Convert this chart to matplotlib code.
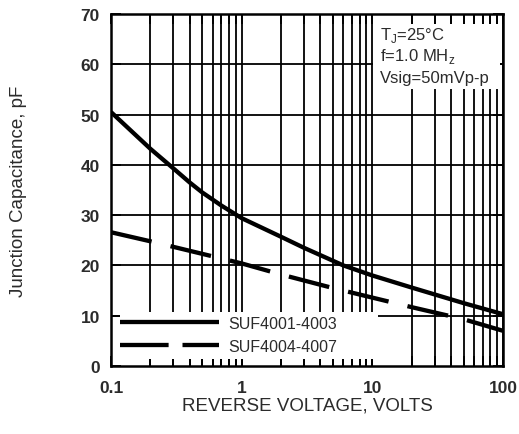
import numpy as np
import matplotlib
matplotlib.use("Agg")
import matplotlib.pyplot as plt
from matplotlib.patches import Rectangle
from matplotlib.lines import Line2D

plt.rcParams['font.family'] = ['Liberation Sans', 'DejaVu Sans']
plt.rcParams['lines.scale_dashes'] = False

# 数据
v_solid = [0.1, 0.2, 0.3, 0.4, 0.5, 0.7, 1, 2, 3, 6, 10, 20, 50, 100]
c_solid = [50.5, 43.2, 39.3, 36.5, 34.5, 31.9, 29.4, 25.7, 23.5, 20.0, 18.0, 15.6, 12.5, 10.3]
v_dash = [0.1, 0.2, 0.5, 1, 2, 5, 10, 20, 50, 100]
c_dash = [26.6, 24.8, 22.3, 20.4, 18.2, 15.5, 13.6, 11.7, 9.3, 7.0]
labels = ["SUF4001-4003", "SUF4004-4007"]
x_ticks = [0.1, 1, 10, 100]
x_ticklabels = ["0.1", "1", "10", "100"]
y_ticks = [0, 10, 20, 30, 40, 50, 60, 70]
cond_lines = [r"T$_\mathregular{J}$=25°C", r"f=1.0 MH$_\mathregular{z}$", "Vsig=50mVp-p"]

txt = '#2b2b2b'
lw = 3.1

fig = plt.figure(figsize=(5.19, 4.35), dpi=100)
ax = fig.add_axes([111 / 519, 68 / 435, 392 / 519, 352 / 435])
ax.set_xscale('log')
ax.set_xlim(0.1, 100)
ax.set_ylim(0, 70)

ax.plot(v_solid, c_solid, color='black', lw=lw, solid_capstyle='butt', zorder=3)
ax.plot(v_dash, c_dash, color='black', lw=lw, dashes=(30, 14), dash_capstyle='butt', zorder=3)

# 网格
ax.set_axisbelow(True)
ax.grid(True, which='both', color='black', lw=1.3)
ax.set_xticks(x_ticks)
ax.set_xticklabels(x_ticklabels)
ax.set_yticks(y_ticks)
ax.tick_params(which='both', direction='in', top=True, right=True, length=7, width=1.3,
               labelsize=12.5, labelcolor=txt)
ax.tick_params(axis='x', which='both', pad=10)
ax.tick_params(axis='y', pad=8)
ax.yaxis.get_gridlines()[0].set_visible(False)
for lab in ax.get_xticklabels() + ax.get_yticklabels():
    lab.set_fontweight('bold')
for sp in ax.spines.values():
    sp.set_linewidth(1.8)
    sp.set_zorder(5)

# 白色遮挡区 (图例和条件说明)
ax.add_patch(Rectangle((0.022, 0.02), 0.66, 0.133, transform=ax.transAxes,
                       facecolor='white', edgecolor='none', zorder=1))
ax.add_patch(Rectangle((0.668, 0.787), 0.324, 0.185, transform=ax.transAxes,
                       facecolor='white', edgecolor='none', zorder=1))

for i, s in enumerate(cond_lines):
    ax.text(0.686, 0.943 - i * 0.061, s, transform=ax.transAxes, fontsize=12,
            color=txt, va='center', ha='left', zorder=4)

# 图例
handles = [Line2D([], [], color='black', lw=lw, solid_capstyle='butt'),
           Line2D([], [], color='black', lw=lw, dashes=(35, 10), dash_capstyle='butt')]
ax.legend(handles, labels, loc='upper left', bbox_to_anchor=(0.023, 0.142), frameon=False,
          borderpad=0, borderaxespad=0, handlelength=6.2, handletextpad=0.6,
          labelspacing=0.5, fontsize=11.5, labelcolor=txt)

ax.set_xlabel("REVERSE VOLTAGE, VOLTS", fontsize=13.5, color=txt)
ax.set_ylabel("Junction Capacitance, pF", fontsize=13.5, color=txt)
ax.xaxis.set_label_coords(0.5, -0.088)
ax.yaxis.set_label_coords(-0.214, 0.5)

fig.savefig("out.png", dpi=100)
